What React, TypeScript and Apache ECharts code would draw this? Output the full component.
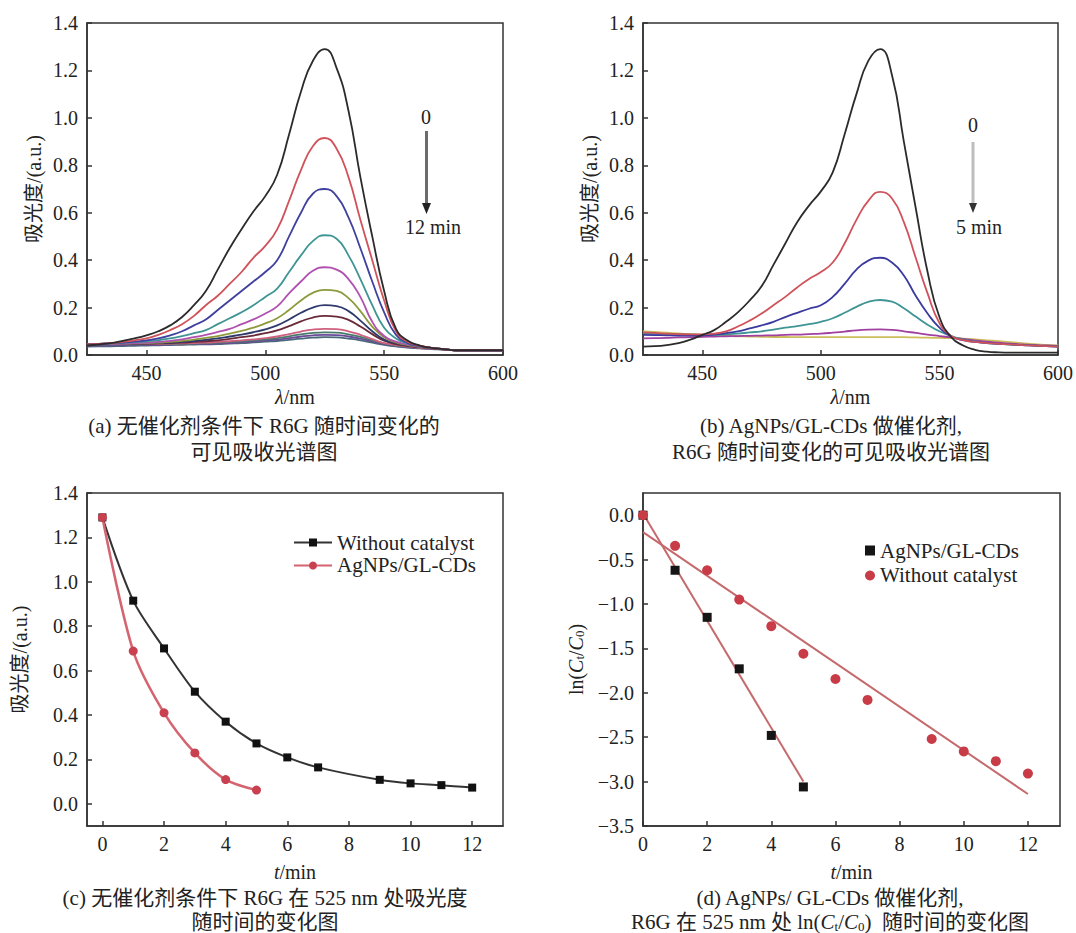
import React, { useEffect, useRef } from 'react';
import * as echarts from 'echarts';

const FONT = '"Liberation Serif", "Noto Sans CJK SC", serif';

// ---- Panel (a) / (b): wavelength grid (nm), 5 nm steps
const wavelengths = [425, 430, 435, 440, 445, 450, 455, 460, 465, 470, 475, 480, 485, 490, 495, 500, 505, 510, 515, 520, 525, 530, 535, 540, 545, 550, 555, 560, 565, 570, 575, 580, 585, 590, 595, 600];

// (a) without catalyst, 0..12 min (no 8 min)
const specA_0 = [0.04, 0.045, 0.05, 0.06, 0.07, 0.083, 0.10, 0.125, 0.16, 0.21, 0.27, 0.36, 0.45, 0.53, 0.605, 0.67, 0.76, 0.93, 1.11, 1.24, 1.29, 1.21, 1.03, 0.75, 0.50, 0.27, 0.11, 0.06, 0.04, 0.03, 0.025, 0.02, 0.02, 0.02, 0.02, 0.02];
const specA_1 = [0.045, 0.047, 0.05, 0.055, 0.062, 0.07, 0.085, 0.105, 0.13, 0.165, 0.21, 0.25, 0.30, 0.35, 0.41, 0.46, 0.53, 0.65, 0.78, 0.88, 0.915, 0.87, 0.75, 0.57, 0.40, 0.23, 0.10, 0.055, 0.04, 0.03, 0.025, 0.02, 0.02, 0.02, 0.02, 0.02];
const specA_2 = [0.045, 0.047, 0.05, 0.052, 0.056, 0.062, 0.07, 0.083, 0.10, 0.125, 0.15, 0.19, 0.23, 0.27, 0.31, 0.35, 0.40, 0.50, 0.60, 0.68, 0.70, 0.67, 0.58, 0.45, 0.31, 0.18, 0.085, 0.05, 0.038, 0.03, 0.025, 0.02, 0.02, 0.02, 0.02, 0.02];
const specA_3 = [0.045, 0.047, 0.049, 0.051, 0.054, 0.058, 0.063, 0.07, 0.08, 0.092, 0.105, 0.13, 0.155, 0.18, 0.21, 0.245, 0.28, 0.35, 0.42, 0.48, 0.505, 0.49, 0.42, 0.32, 0.21, 0.115, 0.07, 0.048, 0.038, 0.03, 0.025, 0.02, 0.02, 0.02, 0.02, 0.02];
const specA_4 = [0.045, 0.046, 0.047, 0.048, 0.05, 0.052, 0.055, 0.06, 0.066, 0.075, 0.085, 0.097, 0.11, 0.13, 0.15, 0.175, 0.205, 0.26, 0.31, 0.355, 0.37, 0.36, 0.32, 0.245, 0.14, 0.08, 0.056, 0.044, 0.036, 0.03, 0.025, 0.02, 0.02, 0.02, 0.02, 0.02];
const specA_5 = [0.045, 0.046, 0.047, 0.048, 0.049, 0.05, 0.052, 0.055, 0.06, 0.065, 0.072, 0.08, 0.09, 0.102, 0.115, 0.133, 0.155, 0.19, 0.23, 0.262, 0.275, 0.27, 0.24, 0.185, 0.12, 0.075, 0.053, 0.042, 0.035, 0.03, 0.025, 0.02, 0.02, 0.02, 0.02, 0.02];
const specA_6 = [0.045, 0.045, 0.046, 0.047, 0.048, 0.049, 0.05, 0.052, 0.055, 0.059, 0.064, 0.07, 0.078, 0.086, 0.096, 0.108, 0.125, 0.15, 0.178, 0.2, 0.21, 0.206, 0.185, 0.145, 0.1, 0.065, 0.05, 0.04, 0.034, 0.029, 0.025, 0.02, 0.02, 0.02, 0.02, 0.02];
const specA_7 = [0.045, 0.045, 0.046, 0.046, 0.047, 0.048, 0.049, 0.05, 0.052, 0.055, 0.058, 0.062, 0.068, 0.075, 0.082, 0.092, 0.104, 0.122, 0.142, 0.158, 0.165, 0.162, 0.148, 0.12, 0.088, 0.06, 0.046, 0.038, 0.033, 0.028, 0.024, 0.02, 0.02, 0.02, 0.02, 0.02];
const specA_9 = [0.045, 0.045, 0.046, 0.046, 0.046, 0.047, 0.047, 0.048, 0.049, 0.05, 0.052, 0.055, 0.058, 0.062, 0.066, 0.071, 0.078, 0.088, 0.099, 0.107, 0.11, 0.109, 0.1, 0.085, 0.067, 0.05, 0.042, 0.035, 0.031, 0.027, 0.024, 0.02, 0.02, 0.02, 0.02, 0.02];
const specA_10 = [0.045, 0.045, 0.045, 0.045, 0.045, 0.045, 0.046, 0.046, 0.047, 0.048, 0.05, 0.052, 0.055, 0.058, 0.062, 0.066, 0.071, 0.079, 0.087, 0.093, 0.095, 0.094, 0.087, 0.076, 0.062, 0.049, 0.04, 0.034, 0.03, 0.027, 0.024, 0.02, 0.02, 0.02, 0.02, 0.02];
const specA_11 = [0.04, 0.04, 0.041, 0.041, 0.042, 0.042, 0.043, 0.044, 0.045, 0.046, 0.047, 0.049, 0.051, 0.054, 0.057, 0.061, 0.065, 0.071, 0.078, 0.083, 0.085, 0.084, 0.078, 0.069, 0.057, 0.046, 0.038, 0.032, 0.029, 0.026, 0.023, 0.02, 0.02, 0.02, 0.02, 0.02];
const specA_12 = [0.035, 0.036, 0.037, 0.038, 0.039, 0.04, 0.041, 0.042, 0.043, 0.044, 0.045, 0.046, 0.048, 0.05, 0.053, 0.056, 0.059, 0.064, 0.069, 0.073, 0.075, 0.074, 0.069, 0.062, 0.052, 0.043, 0.036, 0.031, 0.028, 0.025, 0.023, 0.02, 0.02, 0.02, 0.02, 0.02];
const spectraA = [specA_0, specA_1, specA_2, specA_3, specA_4, specA_5, specA_6, specA_7, specA_9, specA_10, specA_11, specA_12];

// (b) AgNPs/GL-CDs catalyst, 0..5 min
const specB_0 = [0.035, 0.037, 0.042, 0.05, 0.065, 0.085, 0.105, 0.14, 0.18, 0.23, 0.29, 0.38, 0.47, 0.56, 0.63, 0.69, 0.77, 0.93, 1.10, 1.24, 1.29, 1.18, 0.90, 0.62, 0.35, 0.16, 0.075, 0.04, 0.022, 0.014, 0.011, 0.01, 0.01, 0.01, 0.01, 0.01];
const specB_1 = [0.095, 0.093, 0.09, 0.088, 0.087, 0.087, 0.09, 0.1, 0.12, 0.145, 0.175, 0.21, 0.245, 0.285, 0.32, 0.35, 0.39, 0.47, 0.57, 0.65, 0.688, 0.66, 0.56, 0.41, 0.26, 0.135, 0.08, 0.063, 0.055, 0.05, 0.047, 0.045, 0.042, 0.04, 0.037, 0.035];
const specB_2 = [0.085, 0.084, 0.083, 0.082, 0.082, 0.083, 0.086, 0.092, 0.1, 0.112, 0.125, 0.14, 0.16, 0.178, 0.195, 0.21, 0.245, 0.3, 0.36, 0.398, 0.41, 0.39, 0.335, 0.25, 0.175, 0.115, 0.078, 0.063, 0.055, 0.05, 0.047, 0.045, 0.042, 0.04, 0.037, 0.035];
const specB_3 = [0.09, 0.089, 0.088, 0.087, 0.086, 0.085, 0.085, 0.087, 0.09, 0.095, 0.1, 0.107, 0.115, 0.122, 0.13, 0.14, 0.155, 0.178, 0.203, 0.224, 0.232, 0.225, 0.197, 0.162, 0.128, 0.1, 0.08, 0.066, 0.057, 0.05, 0.047, 0.044, 0.042, 0.04, 0.037, 0.035];
const specB_4 = [0.07, 0.071, 0.072, 0.074, 0.075, 0.077, 0.078, 0.079, 0.08, 0.081, 0.082, 0.083, 0.085, 0.086, 0.088, 0.09, 0.094, 0.099, 0.104, 0.107, 0.108, 0.106, 0.1, 0.093, 0.086, 0.08, 0.074, 0.068, 0.062, 0.056, 0.052, 0.048, 0.045, 0.042, 0.04, 0.038];
const specB_5 = [0.1, 0.097, 0.094, 0.091, 0.088, 0.085, 0.083, 0.081, 0.079, 0.078, 0.077, 0.076, 0.076, 0.075, 0.075, 0.075, 0.075, 0.075, 0.075, 0.075, 0.075, 0.075, 0.075, 0.074, 0.073, 0.072, 0.071, 0.069, 0.066, 0.062, 0.058, 0.054, 0.05, 0.046, 0.043, 0.04];
const spectraB = [specB_0, specB_1, specB_2, specB_3, specB_4, specB_5];

// ---- Panel (c): absorbance at 525 nm vs time
const timesNoCat = [0, 1, 2, 3, 4, 5, 6, 7, 9, 10, 11, 12];
const absNoCat = [1.29, 0.915, 0.70, 0.505, 0.37, 0.272, 0.209, 0.164, 0.108, 0.092, 0.084, 0.073];
const timesAg = [0, 1, 2, 3, 4, 5];
const absAg = [1.29, 0.688, 0.41, 0.229, 0.109, 0.062];

// ---- Panel (d): ln(Ct/C0) vs time, with linear fits
const lnAg = [0, -0.62, -1.15, -1.73, -2.48, -3.06];
const lnNoCat = [0, -0.345, -0.62, -0.95, -1.25, -1.56, -1.845, -2.08, -2.52, -2.66, -2.77, -2.91];
const fitAgX = [0, 5];
const fitAgY = [0.02, -3.0];
const fitNoCatX = [0, 12];
const fitNoCatY = [-0.19, -3.14];

// ---- Tick labels
const ticksWave = [450, 500, 550, 600];
const ticksAbs = [0, 0.2, 0.4, 0.6, 0.8, 1.0, 1.2, 1.4];
const ticksTime = [0, 2, 4, 6, 8, 10, 12];
const ticksLn = [-3.5, -3.0, -2.5, -2.0, -1.5, -1.0, -0.5, 0];

// styles (palette)
const colorsA = ['#2b2b2b', '#d0525a', '#40409e', '#3f9494', '#b050b0', '#8d9a3c', '#2f3a6c', '#6a2a3a', '#d06080', '#4a7a6a', '#6a4a9a', '#4a6a7a'];
const colorsB = ['#2b2b2b', '#d0525a', '#3a3aa0', '#3f9494', '#a040a0', '#cdbd5a'];

const LINE = { color: '#333', width: 1.5 };
const TXT = '#222';

function xAxisCfg(grid: number, min: number, max: number, ticks: number[], name: string, gap: number) {
  return {
    type: 'value', gridIndex: grid, min, max,
    axisLine: { show: true, onZero: false, lineStyle: LINE },
    axisTick: { show: true, inside: true, length: 5, customValues: ticks, lineStyle: LINE },
    axisLabel: { customValues: ticks, fontSize: 20, fontFamily: FONT, color: TXT, margin: 8 },
    splitLine: { show: false },
    name, nameLocation: 'middle', nameGap: gap,
    nameTextStyle: {
      fontSize: 20, fontFamily: FONT, color: TXT,
      rich: { i: { fontStyle: 'italic', fontSize: 20, fontFamily: FONT, color: TXT } },
    },
  };
}

function yAxisCfg(grid: number, min: number, max: number, ticks: number[], name: string, gap: number, fmt: (v: number) => string) {
  return {
    type: 'value', gridIndex: grid, min, max,
    axisLine: { show: true, onZero: false, lineStyle: LINE },
    axisTick: { show: true, inside: true, length: 5, customValues: ticks, lineStyle: LINE },
    axisLabel: { customValues: ticks, fontSize: 20, fontFamily: FONT, color: TXT, margin: 9, formatter: fmt },
    splitLine: { show: false },
    name, nameLocation: 'middle', nameGap: gap,
    nameTextStyle: {
      fontSize: 20, fontFamily: FONT, color: TXT,
      rich: {
        i: { fontStyle: 'italic', fontSize: 20, fontFamily: FONT, color: TXT },
        s: { fontSize: 13, fontFamily: FONT, color: TXT, verticalAlign: 'bottom' },
      },
    },
  };
}

const fmt1 = (v: number) => v.toFixed(1);
const fmtMinus = (v: number) => (v < -1e-9 ? '\u2212' : '') + Math.abs(v).toFixed(1);

function caption(text: string, x: number, y: number) {
  return {
    type: 'text', x, y, silent: true,
    style: {
      text, fontSize: 21, fontFamily: FONT, fill: TXT, align: 'center', verticalAlign: 'middle',
      rich: {
        i: { fontStyle: 'italic', fontSize: 21, fontFamily: FONT, fill: TXT },
        s: { fontSize: 13, fontFamily: FONT, fill: TXT, verticalAlign: 'bottom' },
      },
    },
  };
}

function label(text: string, x: number, y: number) {
  return {
    type: 'text', x, y, silent: true,
    style: { text, fontSize: 20, fontFamily: FONT, fill: TXT, align: 'center', verticalAlign: 'middle' },
  };
}

function buildOption() {
  const series: any[] = [];
  // (a)
  for (let k = spectraA.length - 1; k >= 0; k--) {
    series.push({
      type: 'line', xAxisIndex: 0, yAxisIndex: 0, symbol: 'none', smooth: 0.5,
      lineStyle: { width: 1.8, color: colorsA[k] }, itemStyle: { color: colorsA[k] },
      data: wavelengths.map((w, i) => [w, spectraA[k][i]]), silent: true,
    });
  }
  // (b)
  for (let k = spectraB.length - 1; k >= 0; k--) {
    series.push({
      type: 'line', xAxisIndex: 1, yAxisIndex: 1, symbol: 'none', smooth: 0.5,
      lineStyle: { width: 1.8, color: colorsB[k] }, itemStyle: { color: colorsB[k] },
      data: wavelengths.map((w, i) => [w, spectraB[k][i]]), silent: true,
    });
  }
  // (c)
  series.push({
    name: 'Without catalyst', type: 'line', xAxisIndex: 2, yAxisIndex: 2,
    symbol: 'rect', symbolSize: 8, smooth: 0.3,
    lineStyle: { width: 2, color: '#333' }, itemStyle: { color: '#111' },
    data: timesNoCat.map((t, i) => [t, absNoCat[i]]),
  });
  series.push({
    name: 'AgNPs/GL-CDs', type: 'line', xAxisIndex: 2, yAxisIndex: 2,
    symbol: 'circle', symbolSize: 9, smooth: 0.3,
    lineStyle: { width: 2.5, color: '#d4646f' }, itemStyle: { color: '#c9414f' },
    data: timesAg.map((t, i) => [t, absAg[i]]),
  });
  // (d) fits
  series.push({
    type: 'line', xAxisIndex: 3, yAxisIndex: 3, symbol: 'none', silent: true, z: 1,
    lineStyle: { width: 2, color: '#c56a6c' },
    data: fitAgX.map((t, i) => [t, fitAgY[i]]),
  });
  series.push({
    type: 'line', xAxisIndex: 3, yAxisIndex: 3, symbol: 'none', silent: true, z: 1,
    lineStyle: { width: 2, color: '#c56a6c' },
    data: fitNoCatX.map((t, i) => [t, fitNoCatY[i]]),
  });
  series.push({
    name: 'AgNPs/GL-CDs ', type: 'scatter', xAxisIndex: 3, yAxisIndex: 3, z: 3,
    symbol: 'rect', symbolSize: 9, itemStyle: { color: '#151515', opacity: 1 },
    data: timesAg.map((t, i) => [t, lnAg[i]]),
  });
  series.push({
    name: 'Without catalyst ', type: 'scatter', xAxisIndex: 3, yAxisIndex: 3, z: 4,
    symbol: 'circle', symbolSize: 10, itemStyle: { color: '#c83c48', opacity: 1 },
    data: timesNoCat.map((t, i) => [t, lnNoCat[i]]),
  });

  const grid = (left: number, top: number, width: number, height: number) => ({
    left, top, width, height, show: true, borderColor: '#333', borderWidth: 1.5, backgroundColor: 'transparent',
  });

  return {
    animation: false,
    backgroundColor: '#fff',
    textStyle: { fontFamily: FONT },
    grid: [
      grid(87, 23, 416, 332),
      grid(643, 23, 417, 332),
      grid(87, 493, 416, 333),
      grid(643, 493, 417, 333),
    ],
    xAxis: [
      xAxisCfg(0, 425, 600, ticksWave, '{i|λ}/nm', 32),
      xAxisCfg(1, 425, 600, ticksWave, '{i|λ}/nm', 32),
      xAxisCfg(2, -0.5, 13, ticksTime, '{i|t}/min', 36),
      xAxisCfg(3, 0, 13, ticksTime, '{i|t}/min', 36),
    ],
    yAxis: [
      yAxisCfg(0, 0, 1.4, ticksAbs, '吸光度/(a.u.)', 43, fmt1),
      yAxisCfg(1, 0, 1.4, ticksAbs, '吸光度/(a.u.)', 43, fmt1),
      yAxisCfg(2, -0.1, 1.4, ticksAbs, '吸光度/(a.u.)', 57, fmt1),
      yAxisCfg(3, -3.5, 0.25, ticksLn, 'ln({i|C}{s|t}/{i|C}{s|0})', 57, fmtMinus),
    ],
    legend: [
      {
        data: ['Without catalyst', 'AgNPs/GL-CDs'], orient: 'vertical', left: 288, top: 527,
        itemWidth: 38, itemHeight: 10, itemGap: 2, selectedMode: false,
        textStyle: { fontSize: 21, fontFamily: FONT, color: TXT },
      },
      {
        data: ['AgNPs/GL-CDs ', 'Without catalyst '], orient: 'vertical', left: 860, top: 535,
        itemWidth: 10, itemHeight: 10, itemGap: 4, selectedMode: false,
        formatter: (n: string) => n.trim(),
        textStyle: { fontSize: 21, fontFamily: FONT, color: TXT },
      },
    ],
    graphic: [
      // arrow in (a)
      { type: 'line', silent: true, shape: { x1: 426.5, y1: 131, x2: 426.5, y2: 205 }, style: { stroke: '#6b6b6b', lineWidth: 3 } },
      { type: 'polygon', silent: true, shape: { points: [[422, 203], [431, 203], [426.5, 214]] }, style: { fill: '#222' } },
      label('0', 426, 117),
      label('12 min', 433, 227),
      // arrow in (b)
      { type: 'line', silent: true, shape: { x1: 973, y1: 142, x2: 973, y2: 205 }, style: { stroke: '#bdbdbd', lineWidth: 3 } },
      { type: 'polygon', silent: true, shape: { points: [[969, 203], [977, 203], [973, 213]] }, style: { fill: '#333' } },
      label('0', 973, 125),
      label('5 min', 979, 227),
      // captions
      caption('(a) 无催化剂条件下 R6G 随时间变化的', 264, 426),
      caption('可见吸收光谱图', 264, 452),
      caption('(b) AgNPs/GL-CDs 做催化剂,', 831, 426),
      caption('R6G 随时间变化的可见吸收光谱图', 831, 452),
      caption('(c) 无催化剂条件下 R6G 在 525 nm 处吸光度', 265, 898),
      caption('随时间的变化图', 265, 922),
      caption('(d) AgNPs/ GL-CDs 做催化剂,', 830, 898),
      caption('R6G 在 525 nm 处 ln({i|C}{s|t}/{i|C}{s|0})  随时间的变化图', 830, 922),
    ],
    series,
  };
}

export default function App() {
  const ref = useRef<HTMLDivElement>(null);
  useEffect(() => {
    if (!ref.current) return;
    const chart = echarts.init(ref.current, null, { renderer: 'svg' });
    chart.setOption(buildOption() as any);
    return () => chart.dispose();
  }, []);
  return (
    <div
      ref={ref}
      style={{ position: 'absolute', left: 0, top: 0, width: 1076, height: 933, background: '#fff' }}
    />
  );
}
